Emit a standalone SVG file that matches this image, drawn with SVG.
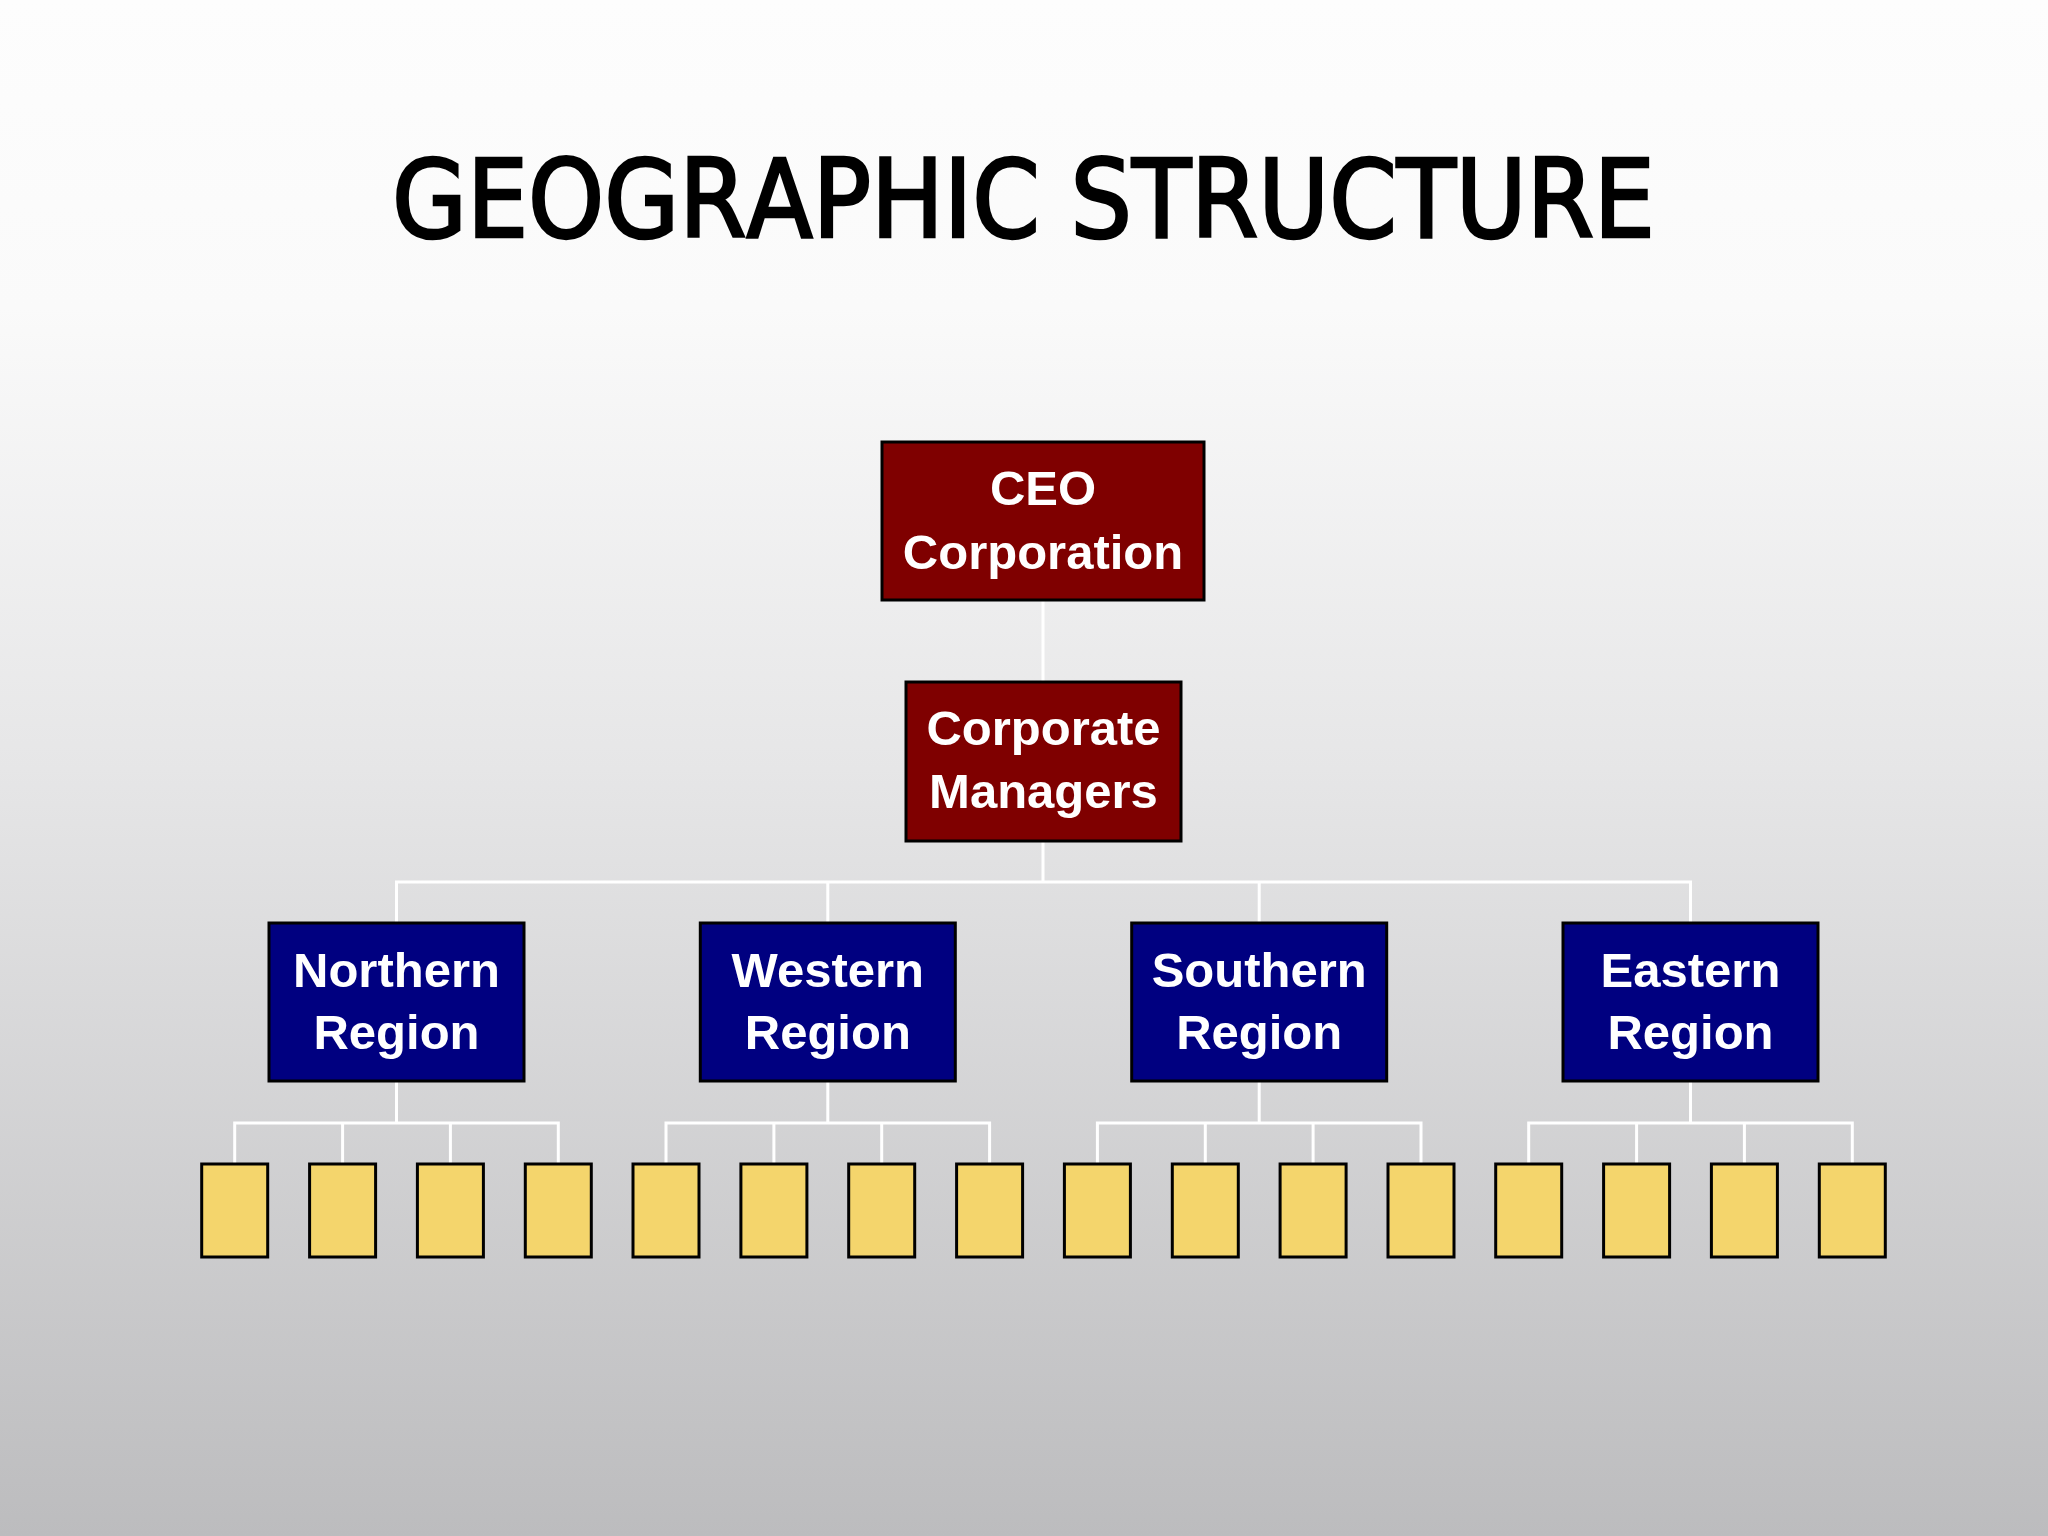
<svg xmlns="http://www.w3.org/2000/svg" width="2048" height="1536" viewBox="0 0 2048 1536">
<defs>
<linearGradient id="bg" x1="0" y1="0" x2="0" y2="1">
<stop offset="0" stop-color="#fdfdfd"/>
<stop offset="0.2" stop-color="#fafafa"/>
<stop offset="0.5" stop-color="#e6e6e7"/>
<stop offset="1" stop-color="#bcbcbe"/>
</linearGradient>
<style>
.title{font-family:"DejaVu Sans Condensed","DejaVu Sans",sans-serif;font-size:108px;fill:#000;stroke:#000;stroke-width:2.6px;font-kerning:none}
.red{fill:#7f0000;stroke:#000;stroke-width:3}
.blue{fill:#000080;stroke:#000;stroke-width:3}
.sub{fill:#f4d56c;stroke:#000;stroke-width:3}
.lbl{font-family:"Liberation Sans",Arial,sans-serif;font-weight:bold;font-size:49px;fill:#fff;text-anchor:middle}
.conn{fill:none;stroke:#fff;stroke-width:3}
</style>
</defs>
<rect x="0" y="0" width="2048" height="1536" fill="url(#bg)"/>
<text class="title" x="1023.5" y="237" text-anchor="middle" textLength="1263" lengthAdjust="spacingAndGlyphs">GEOGRAPHIC STRUCTURE</text>
<g id="connectors" class="conn">
<path d="M1043 600V682M1043 841V882"/>
<path d="M396.5 923V882H1690.5V923M827.8 882V923M1259.2 882V923"/>
<path d="M396.5 1081V1123M234.7 1164V1123H558.3V1164M342.6 1123V1164M450.4 1123V1164"/>
<path d="M827.8 1081V1123M666 1164V1123H989.6V1164M773.9 1123V1164M881.7 1123V1164"/>
<path d="M1259.2 1081V1123M1097.4 1164V1123H1421V1164M1205.3 1123V1164M1313.1 1123V1164"/>
<path d="M1690.5 1081V1123M1528.7 1164V1123H1852.3V1164M1636.6 1123V1164M1744.4 1123V1164"/>
</g>
<g id="ceo"><rect class="red" x="882" y="442" width="322" height="158"/><text class="lbl" x="1043" y="505">CEO</text><text class="lbl" x="1043" y="569">Corporation</text></g>
<g id="corporate-managers"><rect class="red" x="906" y="682" width="275" height="159"/><text class="lbl" x="1043.5" y="745">Corporate</text><text class="lbl" x="1043.5" y="808">Managers</text></g>
<g id="northern"><rect class="blue" x="269" y="923" width="255" height="158"/><text class="lbl" x="396.5" y="987">Northern</text><text class="lbl" x="396.5" y="1049">Region</text></g>
<g id="western"><rect class="blue" x="700.3" y="923" width="255" height="158"/><text class="lbl" x="827.8" y="987">Western</text><text class="lbl" x="827.8" y="1049">Region</text></g>
<g id="southern"><rect class="blue" x="1131.7" y="923" width="255" height="158"/><text class="lbl" x="1259.2" y="987">Southern</text><text class="lbl" x="1259.2" y="1049">Region</text></g>
<g id="eastern"><rect class="blue" x="1563" y="923" width="255" height="158"/><text class="lbl" x="1690.5" y="987">Eastern</text><text class="lbl" x="1690.5" y="1049">Region</text></g>
<g id="n1"><rect class="sub" x="201.7" y="1164" width="66" height="93"/></g>
<g id="n2"><rect class="sub" x="309.6" y="1164" width="66" height="93"/></g>
<g id="n3"><rect class="sub" x="417.4" y="1164" width="66" height="93"/></g>
<g id="n4"><rect class="sub" x="525.3" y="1164" width="66" height="93"/></g>
<g id="w1"><rect class="sub" x="633" y="1164" width="66" height="93"/></g>
<g id="w2"><rect class="sub" x="740.9" y="1164" width="66" height="93"/></g>
<g id="w3"><rect class="sub" x="848.7" y="1164" width="66" height="93"/></g>
<g id="w4"><rect class="sub" x="956.6" y="1164" width="66" height="93"/></g>
<g id="s1"><rect class="sub" x="1064.4" y="1164" width="66" height="93"/></g>
<g id="s2"><rect class="sub" x="1172.3" y="1164" width="66" height="93"/></g>
<g id="s3"><rect class="sub" x="1280.1" y="1164" width="66" height="93"/></g>
<g id="s4"><rect class="sub" x="1388" y="1164" width="66" height="93"/></g>
<g id="e1"><rect class="sub" x="1495.7" y="1164" width="66" height="93"/></g>
<g id="e2"><rect class="sub" x="1603.6" y="1164" width="66" height="93"/></g>
<g id="e3"><rect class="sub" x="1711.4" y="1164" width="66" height="93"/></g>
<g id="e4"><rect class="sub" x="1819.3" y="1164" width="66" height="93"/></g>
</svg>
